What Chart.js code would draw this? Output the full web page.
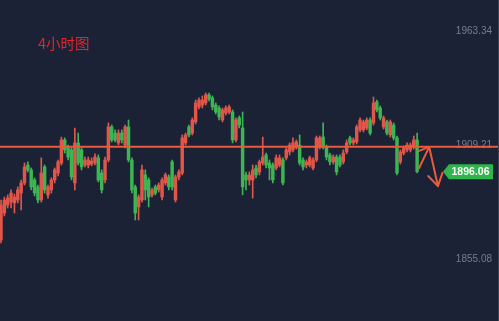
<!DOCTYPE html>
<html><head><meta charset="utf-8">
<script src="https://cdn.jsdelivr.net/npm/chart.js@4/dist/chart.umd.min.js"></script>
<style>html,body{margin:0;padding:0;background:#1b2235;overflow:hidden}#wrap{width:499px;height:321px;position:relative}</style>
</head><body><div id="wrap"><canvas id="c" width="499" height="321"></canvas></div>
<script>
const opens=[1863.6,1876.4,1880.2,1881.6,1881.2,1882.6,1885.9,1890.7,1899.2,1896.9,
1892.1,1888.8,1882.6,1898.3,1885.0,1887.4,1892.1,1895.4,1900.2,1911.1,
1907.8,1906.4,1890.7,1909.7,1906.4,1899.2,1899.2,1899.7,1900.2,1902.6,1895.4,
1892.1,1901.6,1917.3,1914.4,1909.7,1914.4,1908.7,1917.3,1901.6,1888.8,
1879.3,1882.6,1894.5,1892.1,1885.0,1888.8,1887.4,1884.0,1890.7,1893.5,
1900.7,1882.6,1893.5,1895.4,1909.7,1917.3,1914.4,1919.7,1926.8,1927.7,
1928.7,1932.5,1931.1,1927.7,1926.3,1920.6,1923.9,1924.4,1924.4,1911.1,1921.6,
1916.8,1894.5,1892.1,1892.1,1897.8,1895.9,1900.2,1904.0,1900.2,1899.2,
1897.8,1899.2,1901.6,1902.6,1905.4,1906.4,1907.8,1908.7,
1901.6,1899.2,1899.2,1897.8,1901.6,1907.8,1912.5,1907.8,1904.0,1900.7,
1903.0,1903.0,1900.7,1905.4,1912.1,1909.7,1910.2,1915.9,1915.9,1916.8,
1920.6,1919.2,1929.2,1926.3,1917.3,1919.7,1913.5,1918.2,1912.1,1900.7,
1904.9,1906.4,1906.4,1907.8,1911.1];
const closes=[1880.2,1882.6,1883.5,1885.9,1884.0,1887.4,1890.7,1898.3,1896.9,1888.8,
1885.9,1882.6,1895.4,1887.4,1888.8,1892.1,1896.9,1900.7,1911.1,1906.4,
1903.0,1893.5,1909.7,1900.2,1898.3,1901.6,1901.6,1901.1,1903.0,1892.1,1887.4,
1901.6,1917.3,1911.1,1911.1,1914.4,1911.1,1917.3,1901.6,1887.4,1876.4,
1884.0,1896.9,1887.4,1884.0,1887.4,1885.9,1889.7,1892.1,1894.5,1888.8,
1888.8,1893.5,1895.9,1912.1,1913.5,1913.5,1920.6,1928.7,1930.1,1930.1,
1932.5,1930.6,1926.8,1924.4,1922.0,1925.4,1926.3,1926.8,1911.1,1920.6,1918.2,
1888.8,1892.1,1894.5,1896.9,1894.5,1900.7,1903.0,1899.2,1897.8,1892.1,
1902.6,1902.6,1890.7,1906.4,1908.7,1909.7,1910.2,1900.2,
1898.3,1900.7,1902.6,1901.6,1912.1,1912.1,1907.8,1903.0,1900.7,1903.0,
1895.9,1899.2,1904.9,1909.7,1909.7,1911.1,1917.3,1920.6,1919.7,1920.6,
1914.4,1928.7,1925.4,1921.6,1921.6,1914.4,1919.7,1912.1,1895.4,1905.4,
1907.3,1908.7,1908.7,1911.1,1896.06];
const highs=[1882.6,1884.0,1885.0,1887.4,1885.4,1888.8,1892.1,1900.2,1900.7,1897.8,
1893.1,1889.7,1902.6,1899.2,1889.7,1893.1,1897.8,1901.6,1912.5,1912.1,
1908.7,1907.3,1916.8,1914.4,1907.3,1903.0,1903.0,1902.6,1904.5,1904.0,1896.9,
1903.0,1919.2,1918.2,1915.9,1915.9,1915.9,1918.2,1920.6,1902.6,1889.7,
1885.0,1899.2,1896.9,1893.1,1888.3,1889.7,1890.7,1893.1,1895.4,1894.5,
1901.6,1894.5,1896.9,1913.5,1914.4,1918.2,1921.6,1930.1,1931.1,1932.0,
1933.4,1933.4,1932.0,1928.7,1927.3,1926.3,1927.3,1927.7,1925.4,1921.6,1922.5,
1924.4,1895.9,1895.9,1899.2,1899.2,1901.6,1912.5,1904.9,1901.6,1900.2,
1904.0,1904.0,1902.6,1907.3,1909.7,1912.1,1911.1,1913.5,
1902.6,1901.6,1903.5,1902.6,1913.0,1913.0,1919.2,1908.7,1904.9,1904.0,
1904.0,1904.0,1906.4,1911.1,1913.0,1912.1,1918.2,1921.6,1920.6,1921.6,
1921.6,1931.5,1930.1,1927.3,1922.5,1920.6,1920.6,1919.2,1913.0,1906.4,
1908.3,1909.7,1909.7,1913.0,1914.4];
const lows=[1862.2,1875.0,1878.8,1878.8,1876.4,1881.2,1877.9,1889.7,1895.9,1887.4,
1884.5,1881.2,1881.6,1885.9,1883.5,1885.9,1890.7,1894.0,1899.2,1904.9,
1901.6,1892.1,1887.4,1899.2,1896.9,1898.3,1897.8,1898.8,1899.2,1891.2,1885.9,
1890.7,1900.7,1910.2,1910.2,1908.7,1909.7,1907.3,1900.7,1885.9,1873.1,
1873.1,1881.6,1882.6,1879.3,1884.0,1885.0,1886.4,1882.6,1889.7,1887.4,
1887.4,1881.6,1892.1,1894.5,1908.7,1912.5,1913.5,1918.7,1925.8,1926.3,
1927.7,1929.7,1925.4,1923.5,1920.6,1919.7,1923.0,1923.5,1909.7,1910.2,1916.8,
1885.0,1887.4,1889.7,1883.5,1893.1,1894.5,1899.2,1897.8,1892.1,1890.7,
1896.9,1898.3,1889.7,1901.6,1904.0,1905.4,1906.8,1899.2,
1896.9,1897.8,1898.3,1896.9,1900.7,1906.8,1906.8,1901.6,1899.2,1899.7,
1894.5,1898.3,1899.7,1904.5,1908.7,1908.7,1909.2,1914.9,1914.9,1915.9,
1913.5,1918.2,1924.4,1920.6,1916.3,1913.5,1912.5,1911.1,1894.5,1899.7,
1904.0,1905.4,1905.4,1906.8,1895.5];
const yTickValues=[1963.34,1909.21,1855.08];
const yTickLabels=['1963.34','1909.21','1855.08'];
const levelLine=1907.9;
const lastPrice=1896.06;
const lastPriceLabel='1896.06';
const titleText='4小时图';
const arrowPath=[[124.6,1897.8],[127.6,1907.8],[130.2,1889.2]];

const UP='#e2564a', DOWN='#3db552', BG='#1b2235', LINE='#ea5a3c';
const idx=opens.map((_,i)=>i);
const colors=idx.map(i=>closes[i]>=opens[i]?UP:DOWN);
const X_MIN=-0.3, X_MAX=148.4;

const overlay={
  id:'overlay',
  beforeDraw(chart){
    const ctx=chart.ctx;ctx.save();ctx.fillStyle=BG;ctx.fillRect(0,0,chart.width,chart.height);ctx.restore();
  },
  beforeDatasetsDraw(chart){
    const ctx=chart.ctx, ys=chart.scales.y;
    ctx.save();
    ctx.font='10px "Liberation Sans", Arial, sans-serif';
    ctx.fillStyle='#767c8c';ctx.textAlign='right';ctx.textBaseline='middle';
    yTickValues.forEach((v,k)=>ctx.fillText(yTickLabels[k],492,ys.getPixelForValue(v)+1.5));
    ctx.restore();
  },
  afterDraw(chart){
    const ctx=chart.ctx, xs=chart.scales.x, ys=chart.scales.y;
    ctx.save();
    ctx.font='14.5px "Noto Sans CJK SC", sans-serif';ctx.fillStyle='#e0262c';
    ctx.textAlign='left';ctx.textBaseline='alphabetic';
    ctx.fillText(titleText,38,49);
    const pts=arrowPath.map(p=>[xs.getPixelForValue(p[0]),ys.getPixelForValue(p[1])]);
    ctx.strokeStyle=LINE;ctx.lineWidth=2;ctx.lineJoin='round';ctx.lineCap='round';
    ctx.beginPath();ctx.moveTo(pts[0][0],pts[0][1]);ctx.lineTo(pts[1][0],pts[1][1]);ctx.lineTo(pts[2][0],pts[2][1]);ctx.stroke();
    const head=(a,b,len)=>{const ang=Math.atan2(b[1]-a[1],b[0]-a[0]);
      ctx.beginPath();
      ctx.moveTo(b[0]-len*Math.cos(ang-0.55),b[1]-len*Math.sin(ang-0.55));
      ctx.lineTo(b[0],b[1]);
      ctx.lineTo(b[0]-len*Math.cos(ang+0.55),b[1]-len*Math.sin(ang+0.55));
      ctx.stroke();};
    head(pts[1],pts[2],14);
    ctx.beginPath();ctx.moveTo(pts[1][0]-10,pts[1][1]+4);ctx.lineTo(pts[1][0],pts[1][1]);ctx.stroke();
    const ty=ys.getPixelForValue(lastPrice);
    ctx.fillStyle='#2fb54b';
    ctx.beginPath();ctx.moveTo(443,ty);ctx.lineTo(449,ty-7.5);ctx.lineTo(493,ty-7.5);ctx.lineTo(493,ty+7.5);ctx.lineTo(449,ty+7.5);ctx.closePath();ctx.fill();
    ctx.font='bold 10.5px "Liberation Sans", Arial, sans-serif';ctx.fillStyle='#ffffff';
    ctx.textAlign='center';ctx.textBaseline='middle';ctx.fillText(lastPriceLabel,470.5,ty+0.5);
    ctx.strokeStyle='#3a4154';ctx.lineWidth=1;ctx.beginPath();ctx.moveTo(498.5,0);ctx.lineTo(498.5,321);ctx.stroke();
    ctx.restore();
  }
};

new Chart(document.getElementById('c'),{
  type:'bar',
  data:{datasets:[
    {type:'line',data:[{x:X_MIN,y:levelLine},{x:X_MAX,y:levelLine}],borderColor:LINE,borderWidth:2,pointRadius:0,order:0},
    {data:idx.map(i=>({x:i,y:[opens[i],closes[i]]})),backgroundColor:colors,barThickness:2.8,minBarLength:1,grouped:false,order:1},
    {data:idx.map(i=>({x:i,y:[lows[i],highs[i]]})),backgroundColor:colors,barThickness:1,grouped:false,order:2}
  ]},
  options:{
    responsive:false,animation:false,events:[],devicePixelRatio:1,
    layout:{padding:0},
    plugins:{legend:{display:false},tooltip:{enabled:false},title:{display:false}},
    scales:{
      x:{type:'linear',min:X_MIN,max:X_MAX,offset:false,display:false},
      y:{min:1825.1,max:1977.6,display:false}
    }
  },
  plugins:[overlay]
});
</script></body></html>
